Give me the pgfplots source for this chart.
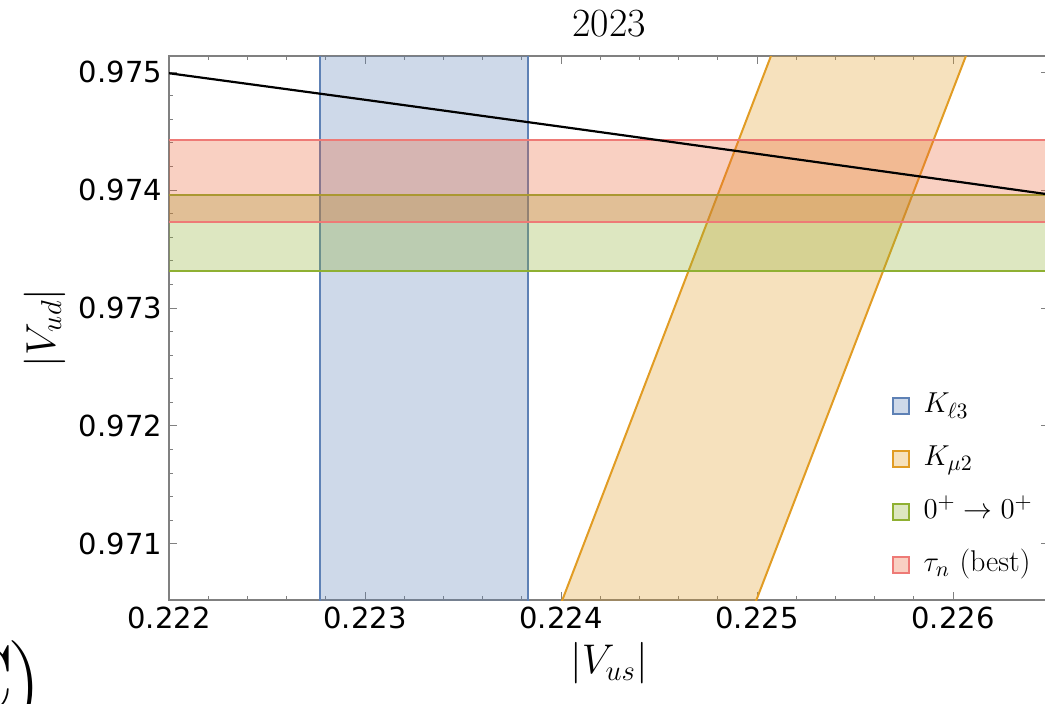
\documentclass[border=0pt]{standalone}
\usepackage{fontspec}
\setmainfont{DejaVu Sans}
\newfontfamily\lmfont{Latin Modern Roman}
\usepackage{pgfplots}
\pgfplotsset{compat=1.18}
\definecolor{mblue}{RGB}{94,129,181}
\definecolor{morange}{RGB}{225,156,36}
\definecolor{mgreen}{RGB}{143,176,50}
\definecolor{mred}{RGB}{235,98,53}
\definecolor{redge}{RGB}{238,122,118}
\begin{document}
\begin{tikzpicture}[x=1pt,y=1pt]
\useasboundingbox (0,0) rectangle (522.5,351.5);
\begin{axis}[
  at={(84.5pt,51.5pt)}, anchor=south west,
  scale only axis, width=440pt, height=272pt,
  xmin=0.222, xmax=0.2264898, ymin=0.970525, ymax=0.975136,
  xtick={0.222,0.223,0.224,0.225,0.226},
  xticklabels={0.222,0.223,0.224,0.225,0.226},
  ytick={0.971,0.972,0.973,0.974,0.975},
  yticklabels={0.971,0.972,0.973,0.974,0.975},
  scaled ticks=false,
  minor x tick num=4, minor y tick num=4,
  tick align=inside,
  major tick length=4pt, minor tick length=2pt,
  every tick/.style={black!50, line width=0.5pt},
  axis line style={black!50, line width=0.6pt},
  tick label style={font=\fontsize{14.5}{17}\selectfont},
  title={\lmfont 2023},
  title style={font=\fontsize{20}{24}\selectfont},
  xlabel={$|V_{us}|$}, ylabel={$|V_{ud}|$},
  label style={font=\fontsize{20}{24}\selectfont},
  legend style={at={(0.8216,0.385)}, anchor=north west, draw=none, fill=none,
    inner sep=0pt, font=\fontsize{15}{18}\selectfont, row sep=11.5pt,
    nodes={inner sep=0pt, text height=11pt, text depth=4pt}},
  legend cell align=left,
  /tikz/every odd column/.append style={column sep=7pt},
  legend image code/.code={\draw[#1, line width=0.6pt] (0pt,-4pt) rectangle (8pt,4pt);},
]
\addplot[draw=mblue, line width=1pt, fill=mblue, fill opacity=0.3]
  coordinates {(0.22277,0.9700) (0.22383,0.9700) (0.22383,0.9760) (0.22277,0.9760)} -- cycle;
\addlegendentry{$K_{\ell 3}$}
\addplot[draw=morange, line width=1pt, fill=morange, fill opacity=0.3]
  coordinates {(0.2238857,0.9700) (0.2248751,0.9700) (0.2262661,0.9760) (0.2252706,0.9760)} -- cycle;
\addlegendentry{$K_{\mu 2}$}
\addplot[draw=mgreen, line width=1pt, fill=mgreen, fill opacity=0.3]
  coordinates {(0.2215,0.973315) (0.2270,0.973315) (0.2270,0.973958) (0.2215,0.973958)} -- cycle;
\addlegendentry{$0^+\rightarrow 0^+$}
\addplot[draw=redge, line width=1pt, fill=mred, fill opacity=0.3]
  coordinates {(0.2215,0.973729) (0.2270,0.973729) (0.2270,0.97442) (0.2215,0.97442)} -- cycle;
\addlegendentry{$\tau_n$ {\lmfont (best)}}
\addplot[black, line width=1.1pt, forget plot]
  coordinates {(0.2218,0.975035) (0.222,0.974990) (0.223,0.974765) (0.224,0.974537) (0.225,0.974307) (0.226,0.974076) (0.2266,0.973937)};
\end{axis}
\node[anchor=base east, inner sep=0pt, font=\fontsize{48}{50}\selectfont\lmfont] at (21,-4.5) {(C\kern-3pt)};
\end{tikzpicture}
\end{document}
